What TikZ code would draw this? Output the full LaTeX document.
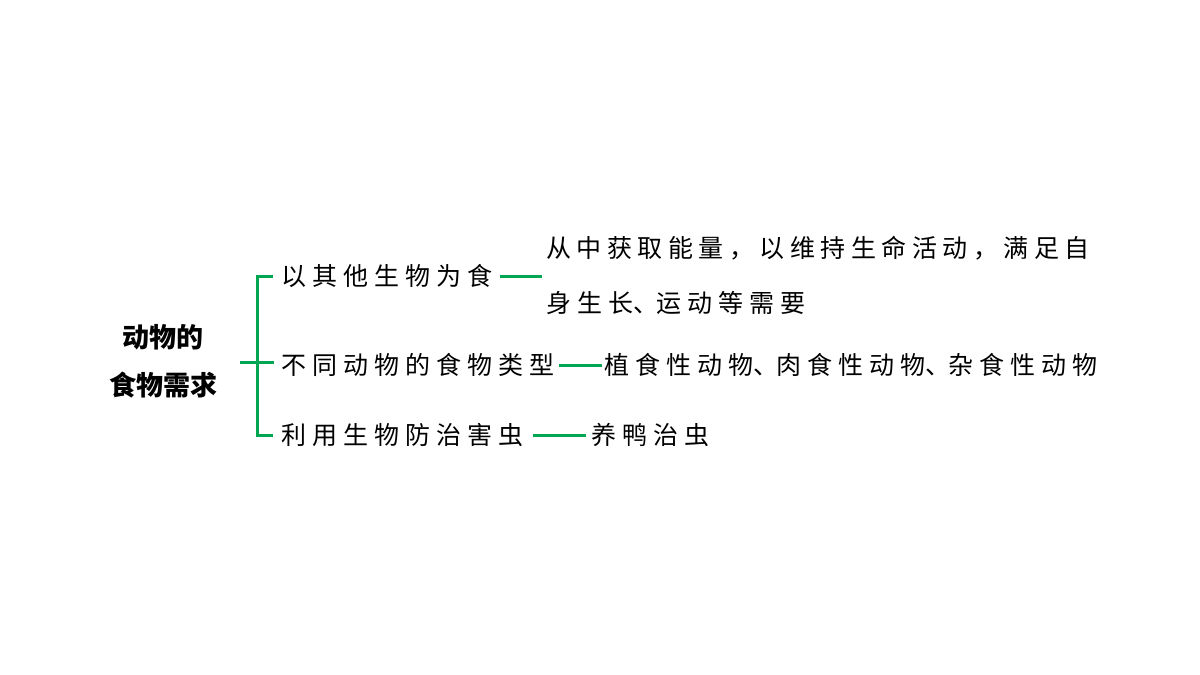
\documentclass[tikz,border=0pt]{standalone}
\usepackage{fontspec}
\usetikzlibrary{positioning}
\newfontfamily\cjk{Noto Sans CJK SC}
\newfontfamily\cjkspaced{Noto Sans CJK SC}[LetterSpace=24]
\newfontfamily\cjkwide{Noto Sans CJK SC}[LetterSpace=22]
\newcommand\dunhao{\makebox[23pt][l]{、}}
\definecolor{mapgreen}{RGB}{0,166,81}

\begin{document}
\begin{tikzpicture}[x=1pt,y=-1pt,
  every node/.style={inner sep=0pt,outer sep=0pt},
  topic/.style={font=\cjk\bfseries\fontsize{27}{48}\selectfont,align=center},
  item/.style={font=\cjkspaced\fontsize{25}{30}\selectfont,anchor=west},
  link/.style={draw=mapgreen,line width=3pt}]
  \useasboundingbox (0,0) rectangle (1200,675);
  \node[topic]  (root) at (163,361)  {动物的\\食物需求};
  \node[item]   (b1)   at (281,276)  {以其他生物为食};
  \node[item]   (b2)   at (281,365)  {不同动物的食物类型};
  \node[item]   (b3)   at (281,435)  {利用生物防治害虫};
  \node[item,align=left,font=\cjkspaced\fontsize{25}{55}\selectfont]
                (l1)   at (546,275)  {{\cjkwide 从中获取能量，以维持生命活动，满足自}\\身生长\dunhao 运动等需要};
  \node[item]   (l2)   at (604,365)  {植食性动物\dunhao 肉食性动物\dunhao 杂食性动物};
  \node[item]   (l3)   at (591,435)  {养鸭治虫};
  \coordinate   (fork) at (257,362);
\draw[link] (root.east |- fork) ++(23,0) -- (fork) -- ++(17,0);
\draw[link] ([xshift=-8pt]b1.west) -| (fork) |- ([xshift=-8pt]b3.west);
\draw[link] ([xshift=8pt]b1.east) -- ([xshift=-4pt]b1.east -| l1.west);
\draw[link] ([xshift=5pt]b2.east) -- ([xshift=-2pt]l2.west);
\draw[link] ([xshift=10pt]b3.east) -- ([xshift=-5pt]l3.west);
\end{tikzpicture}
\end{document}
